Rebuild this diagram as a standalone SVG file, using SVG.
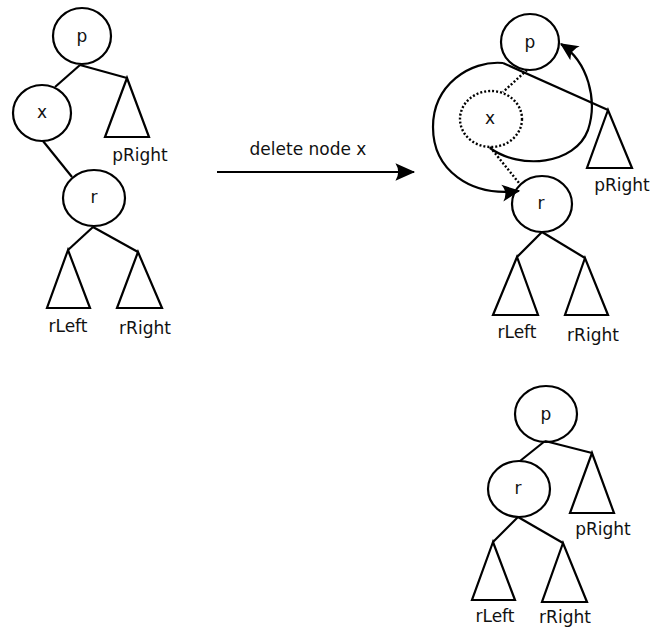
<svg xmlns="http://www.w3.org/2000/svg" width="650" height="627" viewBox="0 0 650 627">
<style>
.n{fill:none;stroke:#000;stroke-width:2.2}
.d{fill:none;stroke:#000;stroke-width:2.4;stroke-dasharray:2 2}
.e{fill:none;stroke:#000;stroke-width:2.2}
.t{font-family:"DejaVu Sans",sans-serif;font-size:17px;fill:#111;text-anchor:middle}
</style>
<defs>
<marker id="ah" markerUnits="userSpaceOnUse" markerWidth="24" markerHeight="24" refX="0" refY="0" viewBox="-18 -10 20 20" orient="auto" overflow="visible">
<path d="M1,0 L-14,-7 Q-9,0 -14,7 z" fill="#000"/>
</marker>
<marker id="big" markerUnits="userSpaceOnUse" markerWidth="24" markerHeight="24" refX="0" refY="0" viewBox="-20 -10 22 20" orient="auto" overflow="visible">
<path d="M1,0 L-17,-8 Q-12,0 -17,8 z" fill="#000"/>
</marker>
</defs>
<rect width="650" height="627" fill="#fff"/>

<g id="connectors">
<line class="e" x1="80" y1="65" x2="55" y2="87"/>
<line class="e" x1="80" y1="65" x2="127" y2="78"/>
<line class="e" x1="43" y1="141" x2="72" y2="177"/>
<line class="e" x1="93" y1="227" x2="68" y2="250"/>
<line class="e" x1="93" y1="227" x2="138" y2="252"/>

<line class="e" x1="217" y1="172" x2="414" y2="172" marker-end="url(#big)"/>

<line class="e" x1="503" y1="63" x2="608" y2="110"/>
<line class="d" x1="527" y1="70" x2="503" y2="92"/>
<line class="d" x1="490" y1="147" x2="519" y2="183"/>
<path class="e" d="M503,63 C470,60 433,85 433,127 C433,170 470,197 519,191" marker-end="url(#ah)"/>
<path class="e" d="M490,148 C520,170 575,165 588,130 C598,100 588,62 561,44" marker-end="url(#ah)"/>
<line class="e" x1="542" y1="232" x2="517" y2="257"/>
<line class="e" x1="542" y1="232" x2="585" y2="258"/>

<line class="e" x1="545" y1="441" x2="520" y2="461"/>
<line class="e" x1="545" y1="441" x2="592" y2="453"/>
<line class="e" x1="518" y1="517" x2="493" y2="542"/>
<line class="e" x1="518" y1="517" x2="563" y2="543"/>
</g>

<g id="l-p"><ellipse class="n" cx="82" cy="36" rx="29" ry="28"/><text class="t" x="82" y="42">p</text></g>
<g id="l-x"><ellipse class="n" cx="42" cy="113" rx="29" ry="28"/><text class="t" x="42" y="118">x</text></g>
<g id="l-r"><ellipse class="n" cx="94" cy="198" rx="31" ry="28"/><text class="t" x="94" y="203">r</text></g>
<g id="l-pRight"><polygon class="n" points="127,78 105,137 149,137"/><text class="t" x="140" y="161">pRight</text></g>
<g id="l-rLeft"><polygon class="n" points="68,250 47,308 90,308"/><text class="t" x="68" y="332">rLeft</text></g>
<g id="l-rRight"><polygon class="n" points="138,252 117,308 162,308"/><text class="t" x="145" y="334">rRight</text></g>

<g id="arrow-label"><text class="t" x="308" y="155">delete node x</text></g>

<g id="m-p"><ellipse class="n" cx="530" cy="42" rx="29" ry="28"/><text class="t" x="530" y="48">p</text></g>
<g id="m-x"><ellipse class="d" cx="491" cy="119" rx="31" ry="28"/><text class="t" x="490" y="124">x</text></g>
<g id="m-r"><ellipse class="n" cx="542" cy="204" rx="30" ry="28"/><text class="t" x="541" y="209">r</text></g>
<g id="m-pRight"><polygon class="n" points="608,110 587,168 632,168"/><text class="t" x="622" y="191">pRight</text></g>
<g id="m-rLeft"><polygon class="n" points="517,257 493,315 538,315"/><text class="t" x="517" y="338">rLeft</text></g>
<g id="m-rRight"><polygon class="n" points="585,258 565,315 608,315"/><text class="t" x="593" y="341">rRight</text></g>

<g id="b-p"><ellipse class="n" cx="546" cy="414" rx="31" ry="28"/><text class="t" x="546" y="420">p</text></g>
<g id="b-r"><ellipse class="n" cx="519" cy="489" rx="31" ry="28"/><text class="t" x="518" y="494">r</text></g>
<g id="b-pRight"><polygon class="n" points="592,453 570,513 614,513"/><text class="t" x="603" y="535">pRight</text></g>
<g id="b-rLeft"><polygon class="n" points="493,542 472,600 515,600"/><text class="t" x="495" y="622">rLeft</text></g>
<g id="b-rRight"><polygon class="n" points="563,543 542,602 587,602"/><text class="t" x="565" y="623">rRight</text></g>
</svg>
